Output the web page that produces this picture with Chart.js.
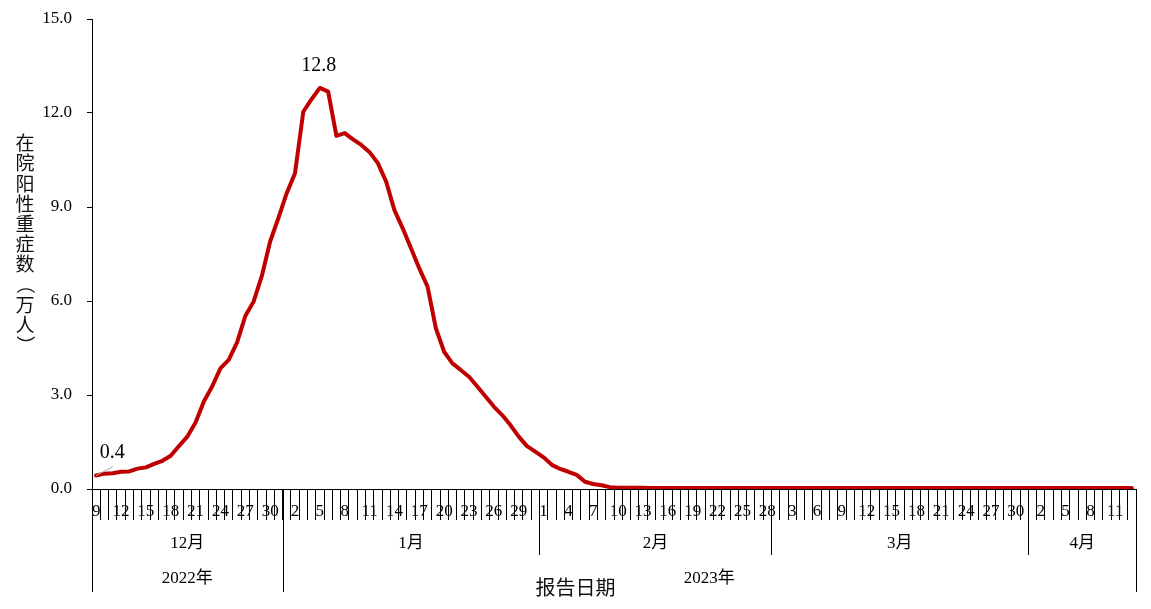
<!DOCTYPE html>
<html>
<head>
<meta charset="utf-8">
<script src="https://cdn.jsdelivr.net/npm/chart.js@4.4.1/dist/chart.umd.min.js"></script>
<style>
  html, body { margin: 0; padding: 0; background: #fff; }
  #wrap { width: 1151px; height: 609px; position: relative; }
</style>
</head>
<body>
<div id="wrap"><canvas id="severe_chart"></canvas></div>
<script>
// report dates: 2022-12-09 .. 2023-04-13, one per day
const startDay = "2022-12-09";
const dayCount = 126;

// in-hospital positive severe cases (10k persons)
const severeCases = [
  0.43, 0.49, 0.50, 0.55, 0.56, 0.65, 0.69, 0.80, 0.90, 1.06,
  1.37, 1.67, 2.12, 2.79, 3.27, 3.85, 4.12, 4.67, 5.52, 5.98,
  6.80, 7.90, 8.65, 9.44, 10.08, 12.04, 12.44, 12.80, 12.68, 11.27,
  11.36, 11.16, 10.98, 10.75, 10.40, 9.81, 8.90, 8.32, 7.68, 7.04,
  6.46, 5.13, 4.38, 4.01, 3.80, 3.58, 3.27, 2.95, 2.63, 2.36,
  2.04, 1.67, 1.37, 1.19, 1.01, 0.77, 0.64, 0.55, 0.45, 0.23,
  0.16, 0.12, 0.06, 0.04, 0.04, 0.04, 0.04, 0.03, 0.03, 0.03,
  0.03, 0.03, 0.03, 0.03, 0.03, 0.03, 0.03, 0.03, 0.03, 0.03,
  0.03, 0.03, 0.03, 0.03, 0.03, 0.03, 0.03, 0.03, 0.03, 0.03,
  0.03, 0.03, 0.03, 0.03, 0.03, 0.03, 0.03, 0.03, 0.03, 0.03,
  0.03, 0.03, 0.03, 0.03, 0.03, 0.03, 0.03, 0.03, 0.03, 0.03,
  0.03, 0.03, 0.03, 0.03, 0.03, 0.03, 0.03, 0.03, 0.03, 0.03,
  0.03, 0.03, 0.03, 0.03, 0.03, 0.03
];

// points that carry a value label
const labelledPoints = [0, 27];

const yTicks = [0, 3, 6, 9, 12, 15];
const yTitle = "在院阳性重症数（万人）";
const xTitle = "报告日期";

// build the category list
const dates = [];
for (let i = 0; i < dayCount; i++) {
  const d = new Date(startDay + "T00:00:00Z");
  d.setUTCDate(d.getUTCDate() + i);
  dates.push(d);
}
const dayLabels = dates.map(d => String(d.getUTCDate()));

function groupsBy(keyFn) {
  const out = [];
  dates.forEach((d, i) => {
    const key = keyFn(d);
    const last = out[out.length - 1];
    if (last && last.label === key) last.end = i + 1;
    else out.push({ label: key, start: i, end: i + 1 });
  });
  return out;
}
const monthGroups = groupsBy(d => (d.getUTCMonth() + 1) + "月");
const yearGroups = groupsBy(d => d.getUTCFullYear() + "年");

const serif = '"Liberation Serif", "Times New Roman", "Noto Sans CJK SC", serif';
const sans = '"Noto Sans CJK SC", sans-serif';

const extras = {
  id: "extras",
  afterDraw(chart) {
    const { ctx, chartArea: area, scales: { x } } = chart;
    const half = (x.getPixelForValue(1) - x.getPixelForValue(0)) / 2;
    const edge = i => (i >= dayCount ? area.right : i <= 0 ? area.left : x.getPixelForValue(i) - half);
    const base = area.bottom;

    ctx.save();
    ctx.strokeStyle = "#000";
    ctx.lineWidth = 1;
    ctx.fillStyle = "#000";
    ctx.textAlign = "center";
    ctx.textBaseline = "middle";

    // month row
    ctx.font = "17px " + serif;
    monthGroups.forEach(g => {
      const x0 = Math.round(edge(g.start)) + 0.5;
      ctx.beginPath();
      ctx.moveTo(x0, base);
      ctx.lineTo(x0, base + 66);
      ctx.stroke();
      ctx.fillText(g.label, (edge(g.start) + edge(g.end)) / 2, base + 55);
    });

    // year row
    yearGroups.forEach(g => {
      [g.start, g.end].forEach(i => {
        const x0 = Math.round(edge(i)) + 0.5;
        ctx.beginPath();
        ctx.moveTo(x0, base);
        ctx.lineTo(x0, base + 103);
        ctx.stroke();
      });
      ctx.fillText(g.label, (edge(g.start) + edge(g.end)) / 2, base + 90);
    });

    // axis titles
    ctx.font = "20px " + sans;
    ctx.fillStyle = "#111";
    ctx.fillText(xTitle, chart.width / 2, base + 98);
    ctx.font = "19px " + sans;
    [...yTitle].forEach((ch, i) => {
      const cy = 143 + i * 20.2;
      if (ch === "（" || ch === "）") {
        ctx.save();
        ctx.translate(25, cy);
        ctx.rotate(Math.PI / 2);
        ctx.fillText(ch, 0, 0);
        ctx.restore();
      } else {
        ctx.fillText(ch, 25, cy);
      }
    });

    // value labels
    const meta = chart.getDatasetMeta(0);
    ctx.font = "20px " + serif;
    ctx.fillStyle = "#000";
    labelledPoints.forEach(i => {
      const pt = meta.data[i];
      const txt = severeCases[i].toFixed(1);
      if (i === 0) {
        ctx.strokeStyle = "#9fb09f";
        ctx.beginPath();
        ctx.moveTo(pt.x, pt.y);
        ctx.lineTo(pt.x + 17, pt.y - 9);
        ctx.stroke();
        ctx.fillText(txt, pt.x + 16, pt.y - 23);
      } else {
        ctx.fillText(txt, pt.x - 1, pt.y - 22);
      }
    });
    ctx.restore();
  }
};

new Chart(document.getElementById("severe_chart"), {
  type: "line",
  data: {
    labels: dayLabels,
    datasets: [
      {
        label: "在院阳性重症数",
        data: severeCases,
        borderColor: "#C00000",
        borderWidth: 4,
        borderJoinStyle: "round",
        borderCapStyle: "round",
        pointRadius: 0,
        tension: 0,
      },
    ],
  },
  options: {
    responsive: true,
    maintainAspectRatio: false,
    animation: false,
    layout: { padding: { left: 42, right: 15, top: 19, bottom: 0 } },
    plugins: {
      legend: { display: false },
      tooltip: { enabled: false },
    },
    scales: {
      x: {
        offset: true,
        grid: {
          offset: true,
          drawOnChartArea: false,
          drawTicks: true,
          tickLength: 31,
          color: "#000",
        },
        border: { color: "#000", width: 1 },
        ticks: {
          autoSkip: false,
          maxRotation: 0,
          padding: -19,
          color: "#000",
          font: { family: serif, size: 17 },
          callback: (value, index) => (index % 3 === 0 ? dayLabels[index] : ""),
        },
        afterFit: scale => { scale.height = 120; },
      },
      y: {
        min: 0,
        max: 15,
        afterBuildTicks: scale => { scale.ticks = yTicks.map(v => ({ value: v })); },
        grid: { drawOnChartArea: false, tickLength: 5, color: "#000" },
        border: { color: "#000", width: 1 },
        ticks: {
          padding: 15,
          color: "#000",
          font: { family: serif, size: 17 },
          callback: v => Number(v).toFixed(1),
        },
        afterFit: scale => {
          scale.width = 50;
          // top edge is set by layout padding, not by the label half-height + tick padding
          scale.paddingTop = 0;
          scale.paddingBottom = 0;
        },
      },
    },
  },
  plugins: [extras],
});
</script>
</body>
</html>
